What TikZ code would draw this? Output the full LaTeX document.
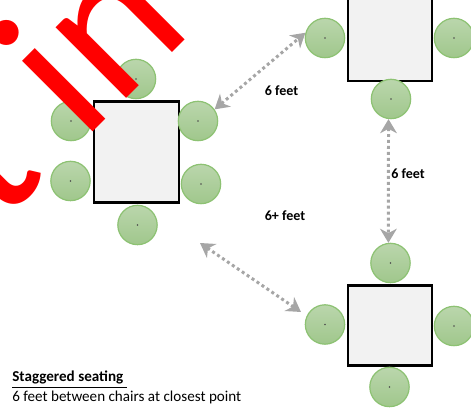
\documentclass[tikz,border=0pt]{standalone}
\usepackage{fontspec}
\setmainfont{Carlito}
\usetikzlibrary{arrows.meta}
\definecolor{chairline}{HTML}{8DC273}
\definecolor{chairtop}{HTML}{BAD6AC}
\definecolor{chairbot}{HTML}{A0C78C}
\definecolor{arrowgray}{HTML}{A6A6A6}
\tikzset{
  table/.style={draw=black,line width=1.2pt,fill=black!5,rectangle,inner sep=0pt},
  chair/.style={circle,draw=chairline,line width=0.7pt,top color=chairtop,bottom color=chairbot,
    minimum size=22.4pt,inner sep=0pt,
    path picture={\fill[black!70] (path picture bounding box.center) circle (0.45pt);}},
  gap/.style={draw=arrowgray,line width=1.7pt,dash pattern=on 1.7pt off 1.7pt,
    {Stealth[length=8pt,width=9.5pt,inset=2.5pt]}-{Stealth[length=8pt,width=9.5pt,inset=2.5pt]}},
  dist/.style={font=\bfseries\fontsize{8}{10}\selectfont,inner sep=0pt}
}
\begin{document}
\begin{tikzpicture}[x=0.02cm,y=-0.02cm]
    \useasboundingbox (0,0) rectangle (471,408);

    \node[table,minimum width=48pt,minimum height=57.5pt] (tleft) at (136.5,152) {};
    \node[table,minimum width=48pt,minimum height=52pt] (ttop) at (390,35) {};
    \node[table,minimum width=48pt,minimum height=45.5pt] (tbot) at (390,325.5) {};

    \node[chair] (la) at (136,79) {};
    \node[chair] (lb) at (71,121) {};
    \node[chair] (lc) at (198,121) {};
    \node[chair] (ld) at (70.5,181) {};
    \node[chair] (le) at (201,184) {};
    \node[chair] (lf) at (137.5,225) {};

    \node[chair] (ta) at (325,38) {};
    \node[chair] (tb) at (454,38) {};
    \node[chair] (tc) at (391,99) {};

    \node[chair] (ba) at (390.5,263) {};
    \node[chair] (bb) at (325,324.5) {};
    \node[chair] (bc) at (454,326) {};
    \node[chair] (bd) at (389.5,387) {};

    \coordinate (free1) at (200,243);
    \coordinate (free2) at (301,312);

    \draw[gap] (lc.35) -- (ta.165);
    \draw[gap] (tc.-97) -- (ba.96);
    \draw[gap] (free1) -- (free2);

    \node[dist] (d1) at (281.5,91) {6 feet};
    \node[dist] (d2) at (408,174) {6 feet};
    \node[dist] (d3) at (285,215.5) {6+ feet};

    \node[anchor=base west,inner sep=0pt,font=\bfseries\fontsize{8.6}{10}\selectfont] (title) at (12,382) {\underline{Staggered seating\ }};
    \node[anchor=base west,inner sep=0pt,font=\fontsize{8.6}{10}\selectfont] (sub) at (12,402) {6 feet between chairs at closest point};

    \node[anchor=base west,inner sep=0pt,rotate=45,text=red,font=\fontsize{119}{119}\selectfont] (mark) at (-1,226) {t in};
\end{tikzpicture}
\end{document}
